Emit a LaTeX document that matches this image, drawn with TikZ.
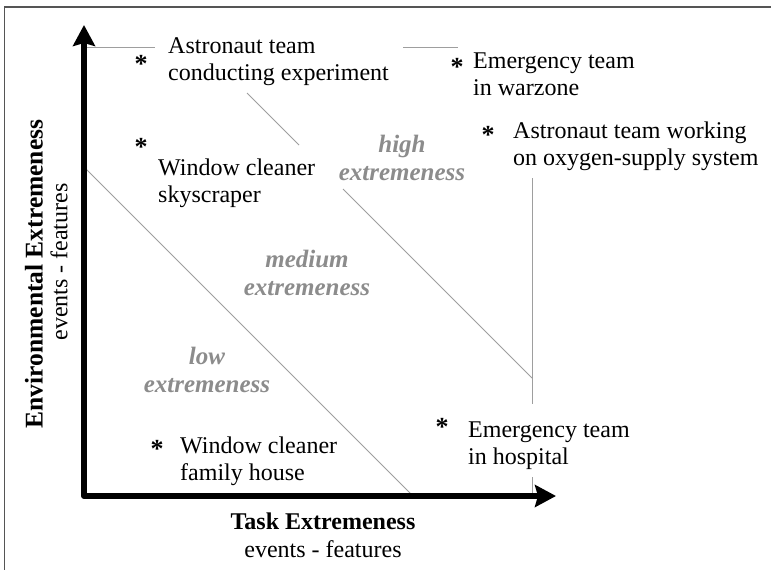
\documentclass[tikz,border=0pt]{standalone}
\usepackage{fontspec}
\setmainfont{Liberation Serif}
\usetikzlibrary{arrows.meta}
\definecolor{lbl}{HTML}{8C8C8C}
\definecolor{bnd}{HTML}{9E9E9E}
\definecolor{frm}{HTML}{555555}
\begin{document}
\begin{tikzpicture}[x=1pt,y=-1pt,
  txt/.style={font=\fontsize{24}{27}\selectfont, inner sep=0pt, align=left, anchor=base west},
  lvl/.style={font=\fontsize{25}{28}\selectfont\bfseries\itshape, text=lbl, inner sep=0pt, align=center, anchor=base},
  ast/.style={font=\fontsize{26}{26}\selectfont\bfseries, inner sep=0pt, anchor=base},
  bound/.style={draw=bnd, line width=0.9pt},
  axis/.style={line width=6pt, line join=round, {Stealth[length=21pt,width=22pt,inset=3pt]}-{Stealth[length=21pt,width=22pt,inset=3pt]}},
  ttl/.style={font=\fontsize{24}{28}\selectfont, inner sep=0pt, align=center, anchor=base}]
\useasboundingbox (0,0) rectangle (771,570);
\fill[white] (0,0) rectangle (771,570);
\draw[frm, line width=1.2pt] (4.5,575) -- (4.5,7) -- (776,7);
% region boundaries
\coordinate (t1) at (84,47);
\coordinate (t2) at (155,47);
\coordinate (t3) at (403,47);
\coordinate (t4) at (458,47);
\draw[bound] (t1) -- (t2);
\draw[bound] (t3) -- (t4);
\coordinate (v1) at (532,178);
\coordinate (v2) at (532,404);
\coordinate (v3) at (532,477);
\coordinate (v4) at (532,496);
\draw[bound] (v1) -- (v2);
\draw[bound] (v3) -- (v4);
\coordinate (h1) at (247,93);
\coordinate (h2) at (299,145);
\coordinate (h3) at (343,189);
\coordinate (h4) at (532,378);
\draw[bound] (h1) -- (h2);
\draw[bound] (h3) -- (h4);
\coordinate (l1) at (86,169);
\coordinate (l2) at (413,496);
\draw[bound] (l1) -- (l2);
% axes
\coordinate (ytip) at (84,25);
\coordinate (origin) at (84,496);
\coordinate (xtip) at (556,496);
\draw[axis] (ytip) -- (origin) -- (xtip);
% examples (anchor = baseline of the last line)
\node[txt] (astexp) at (168,80) {Astronaut team\\conducting experiment};
\node[txt] (emwar) at (473,95) {Emergency team\\in warzone};
\node[txt] (astoxy) at (513,165) {Astronaut team working\\on oxygen-supply system};
\node[txt] (wcsky) at (158,202) {Window cleaner\\skyscraper};
\node[txt] (wcfam) at (180,480) {Window cleaner\\family house};
\node[txt] (emhos) at (468,464) {Emergency team\\in hospital};
\node[ast] (a1) at (141,72) {*};
\node[ast] (a2) at (141,155) {*};
\node[ast] (a3) at (457,75) {*};
\node[ast] (a4) at (488,143) {*};
\node[ast] (a5) at (157,457) {*};
\node[ast] (a6) at (442,435) {*};
% levels
\node[lvl] (high) at (402,180) {high\\extremeness};
\node[lvl] (med) at (307,295) {medium\\extremeness};
\node[lvl] (low) at (207,392) {low\\extremeness};
% axis titles
\node[ttl] (xt) at (323,557) {\textbf{Task Extremeness}\\events - features};
\node[font=\fontsize{25.5}{28}\selectfont\bfseries, rotate=90, inner sep=0pt] (yt1) at (34,274) {Environmental Extremeness};
\node[font=\fontsize{24}{28}\selectfont, rotate=90, inner sep=0pt] (yt2) at (59,262) {events - features};
\end{tikzpicture}
\end{document}
